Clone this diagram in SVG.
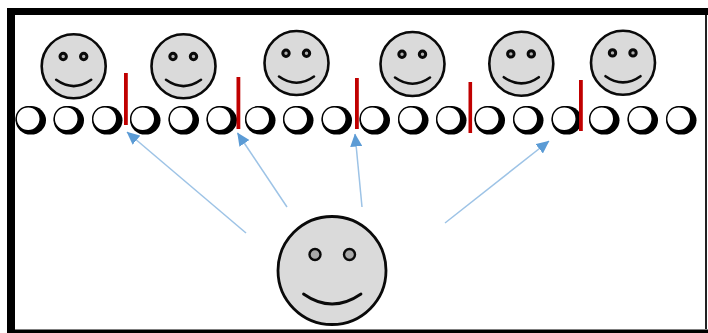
<svg xmlns="http://www.w3.org/2000/svg" xmlns:xlink="http://www.w3.org/1999/xlink" width="708" height="333" viewBox="0 0 708 333">
<style>
.skin{fill:#dadada;stroke:#0a0a0a}
.mouth{fill:none;stroke:#0a0a0a;stroke-linecap:round}
.bar{fill:#c00000}
.arrow{stroke:#9dc3e6;stroke-width:1.5;fill:none;marker-end:url(#head)}
</style>
<defs>
<marker id="head" viewBox="0 0 13 12" refX="12.500" refY="6" markerWidth="13" markerHeight="12" markerUnits="userSpaceOnUse" orient="auto"><path d="M0 0L13 6L0 12Z" fill="#5b9bd5"/></marker>
<g id="moon"><ellipse cx="0.800" cy="0.300" rx="15.200" ry="14.300" fill="#000"/><ellipse cx="-1.800" cy="-1.200" rx="12" ry="12" fill="#fff" stroke="#000" stroke-width="1.400"/></g>
<g id="face"><circle class="skin" r="32" stroke-width="2.600"/><circle cx="-10.500" cy="-9.800" r="3.200" fill="#b0b0b0" stroke="#0a0a0a" stroke-width="3"/><circle cx="10" cy="-9.800" r="3.200" fill="#b0b0b0" stroke="#0a0a0a" stroke-width="3"/><path class="mouth" stroke-width="2.600" d="M-17.500 13.500Q0 26 17.500 13.500"/></g>
</defs>
<rect width="708" height="333" fill="#fff"/>
<path d="M7 8H708V15H15V329.500H708V333H7Z" fill="#000"/>
<rect x="705" y="15" width="2" height="314" fill="#222"/>
<g id="moons">
<use xlink:href="#moon" x="30" y="120"/><use xlink:href="#moon" x="68" y="120"/><use xlink:href="#moon" x="106.500" y="120"/><use xlink:href="#moon" x="144.500" y="120"/><use xlink:href="#moon" x="183" y="120"/><use xlink:href="#moon" x="221" y="120"/><use xlink:href="#moon" x="259.500" y="120"/><use xlink:href="#moon" x="297.500" y="120"/><use xlink:href="#moon" x="336" y="120"/><use xlink:href="#moon" x="374" y="120"/><use xlink:href="#moon" x="412.500" y="120"/><use xlink:href="#moon" x="450.500" y="120"/><use xlink:href="#moon" x="489" y="120"/><use xlink:href="#moon" x="527.500" y="120"/><use xlink:href="#moon" x="566" y="120"/><use xlink:href="#moon" x="603.500" y="120"/><use xlink:href="#moon" x="642" y="120"/><use xlink:href="#moon" x="680.500" y="120"/>
</g>
<g id="face1"><use xlink:href="#face" x="73.700" y="66.300"/></g>
<g id="face2"><use xlink:href="#face" x="183.500" y="66.300"/></g>
<g id="face3"><use xlink:href="#face" x="296.500" y="63"/></g>
<g id="face4"><use xlink:href="#face" x="412.500" y="64"/></g>
<g id="face5"><use xlink:href="#face" x="521.300" y="63.700"/></g>
<g id="face6"><use xlink:href="#face" x="623" y="62.700"/></g>
<g id="teacher">
<circle class="skin" cx="332" cy="270.500" r="54" stroke-width="2.800"/>
<circle cx="315" cy="254.500" r="5.500" fill="#aaa" stroke="#0a0a0a" stroke-width="2.400"/>
<circle cx="349.500" cy="254.500" r="5.500" fill="#aaa" stroke="#0a0a0a" stroke-width="2.400"/>
<path class="mouth" stroke-width="2.800" d="M303.500 294Q332 314 361 294"/>
</g>
<g id="bars">
<rect class="bar" x="124" y="73" width="3.800" height="52"/>
<rect class="bar" x="236.500" y="77" width="3.800" height="52"/>
<rect class="bar" x="355" y="78" width="3.800" height="51"/>
<rect class="bar" x="468.500" y="82" width="3.600" height="51"/>
<rect class="bar" x="579" y="80" width="3.800" height="51"/>
</g>
<g id="connectors">
<path class="arrow" d="M246 233L127 132"/>
<path class="arrow" d="M287 207L237.500 133"/>
<path class="arrow" d="M362 207L355 134"/>
<path class="arrow" d="M445 223L549 141"/>
</g>
</svg>
